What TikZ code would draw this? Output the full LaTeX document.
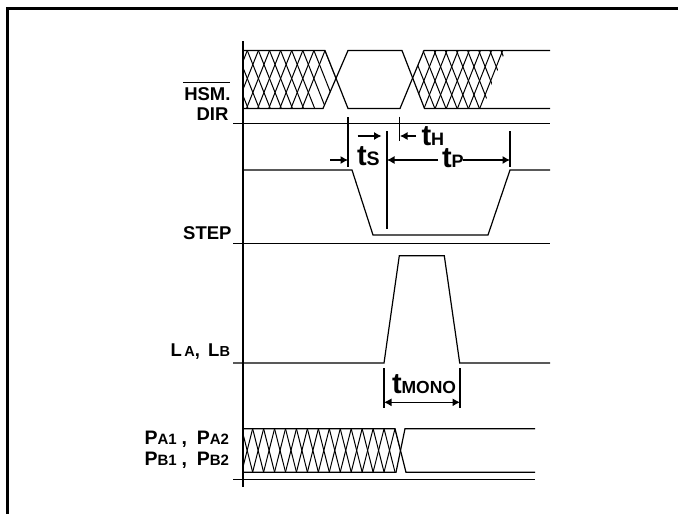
\documentclass[tikz,border=0pt]{standalone}
\usepackage{fontspec}
\setmainfont{Liberation Sans}[BoldFont={Liberation Sans Bold}]
\usetikzlibrary{arrows.meta}
\newcommand{\fsz}[1]{\fontsize{#1}{#1}\selectfont}
\newcommand{\bigtee}{{\fsz{29}t}}
\tikzset{
  wave/.style={line width=1.2pt,black,line join=miter},
  hatch/.style={line width=1pt,black},
  axis/.style={line width=1.2pt,black},
  dimline/.style={line width=1.1pt,black},
  dimarrow/.style={line width=1.1pt,black,-{Latex[length=7.5pt,width=8pt]}},
  frameline/.style={line width=3pt,black},
  lab/.style={inner sep=0pt,outer sep=0pt,font=\bfseries\fsz{18.5},anchor=base east,text=black},
  dimlab/.style={inner sep=0pt,outer sep=0pt,font=\bfseries\fsz{17.5},anchor=base west,text=black},
}
\begin{document}
\begin{tikzpicture}[x=1pt,y=-1pt]
\useasboundingbox (0,0) rectangle (678,514);
% frame
\draw[frameline] (7.5,514) -- (7.5,8.5) -- (678,8.5);
% axis and baselines
\draw[axis] (243,41) -- (243,487);
\draw[axis] (233,123.5) -- (550,123.5);
\draw[axis] (233,243.5) -- (550,243.5);
% HSM/DIR wave
\draw[wave] (243,50.5) -- (325,50.5) -- (348,108.5) -- (400,108.5) -- (424,50.5) -- (550,50.5);
\draw[wave] (243,108.5) -- (323,108.5) -- (348,50.5) -- (402,50.5) -- (424.5,108.5) -- (550,108.5);
\begin{scope}
\clip (243,50.5) -- (325,50.5) -- (336,79.5) -- (323,108.5) -- (243,108.5) -- cycle;
\foreach \k in {0,...,10} {
  \draw[hatch] ({325-11.1*\k},50.5) -- ++(23,58);
  \draw[hatch] ({325-11.1*\k},50.5) -- ++(-23,58);
}
\end{scope}
\begin{scope}
\clip (423,50.5) -- (505.5,50.5) -- (482.5,108.5) -- (424,108.5) -- (413,79.5) -- cycle;
\foreach \k in {-1,0,...,7} {
  \draw[hatch] ({423+11.14*\k},50.5) -- ++(23,58);
}
\foreach \k in {-1,0,...,5} {
  \draw[hatch] ({447+11.14*\k},50.5) -- ++(-23,58);
}
\end{scope}
% STEP wave
\draw[wave] (243,170) -- (352,170) -- (373,235) -- (488,235) -- (510,170) -- (550,170);
% LA LB wave
\draw[wave] (233,363) -- (384,363) -- (399.3,255.7) -- (444.3,255.7) -- (459.7,363) -- (550,363);
% P wave
\draw[wave] (243,428.7) -- (395,428.7) -- (406,472.3) -- (535,472.3);
\draw[wave] (243,472.3) -- (396,472.3) -- (405,428.7) -- (535,428.7);
\draw[axis] (233,479.7) -- (535,479.7);
\begin{scope}
\clip (243,428.7) -- (395,428.7) -- (400.5,450.5) -- (396,472.3) -- (243,472.3) -- cycle;
\foreach \k in {0,...,15} {
  \draw[hatch] ({395-10.95*\k},428.7) -- ++(11,43.6);
  \draw[hatch] ({395-10.95*\k},428.7) -- ++(-11,43.6);
}
\end{scope}
% timing marks
\draw[dimline] (348,117) -- (348,167);
\draw[dimline] (399.5,116.7) -- (399.5,141);
\draw[dimline] (387,131) -- (387,229);
\draw[dimline] (510,131) -- (510,167);
\draw[dimline] (384,368) -- (384,408);
\draw[dimline] (460,368) -- (460,408);
\draw[dimarrow] (330,160) -- (348,160);
\draw[dimarrow] (357.5,136) -- (381.5,136);
\draw[dimarrow] (416,136) -- (400,136);
\draw[dimarrow] (438,160) -- (387,160);
\draw[dimarrow] (463,160) -- (510,160);
\draw[dimarrow] (422,402.3) -- (384,402.3);
\draw[dimarrow] (422,402.3) -- (460,402.3);
% labels
\node[lab] (hsm) at (230.5,100) {HSM.};
\draw[line width=1pt] (183,82) -- (230,82);
\node[lab] (dir) at (228.5,120) {DIR};
\node[lab] (step) at (231.5,239.5) {STEP};
\node[lab] (la) at (230,356.7) {L{\fsz{14.5}\,A},\hspace{0.45em}L{\fsz{14.5}B}};
\node[lab,font=\bfseries\fsz{19.5}] (pa) at (229,444) {P{\fsz{15}A1}\hspace{0.25em},\hspace{0.5em}P{\fsz{15}A2}};
\node[lab,font=\bfseries\fsz{19.5}] (pb) at (229,465) {P{\fsz{15}B1}\hspace{0.25em},\hspace{0.5em}P{\fsz{15}B2}};
\node[dimlab] (ts) at (357,165) {\bigtee{\fsz{19.5}S}};
\node[dimlab] (th) at (421.5,145.7) {\bigtee{\fsz{18}H}};
\node[dimlab] (tp) at (442,167) {\bigtee{\fsz{18}P}};
\node[dimlab] (tm) at (392,393) {\bigtee{\fsz{17.5}MONO}};
\end{tikzpicture}
\end{document}
